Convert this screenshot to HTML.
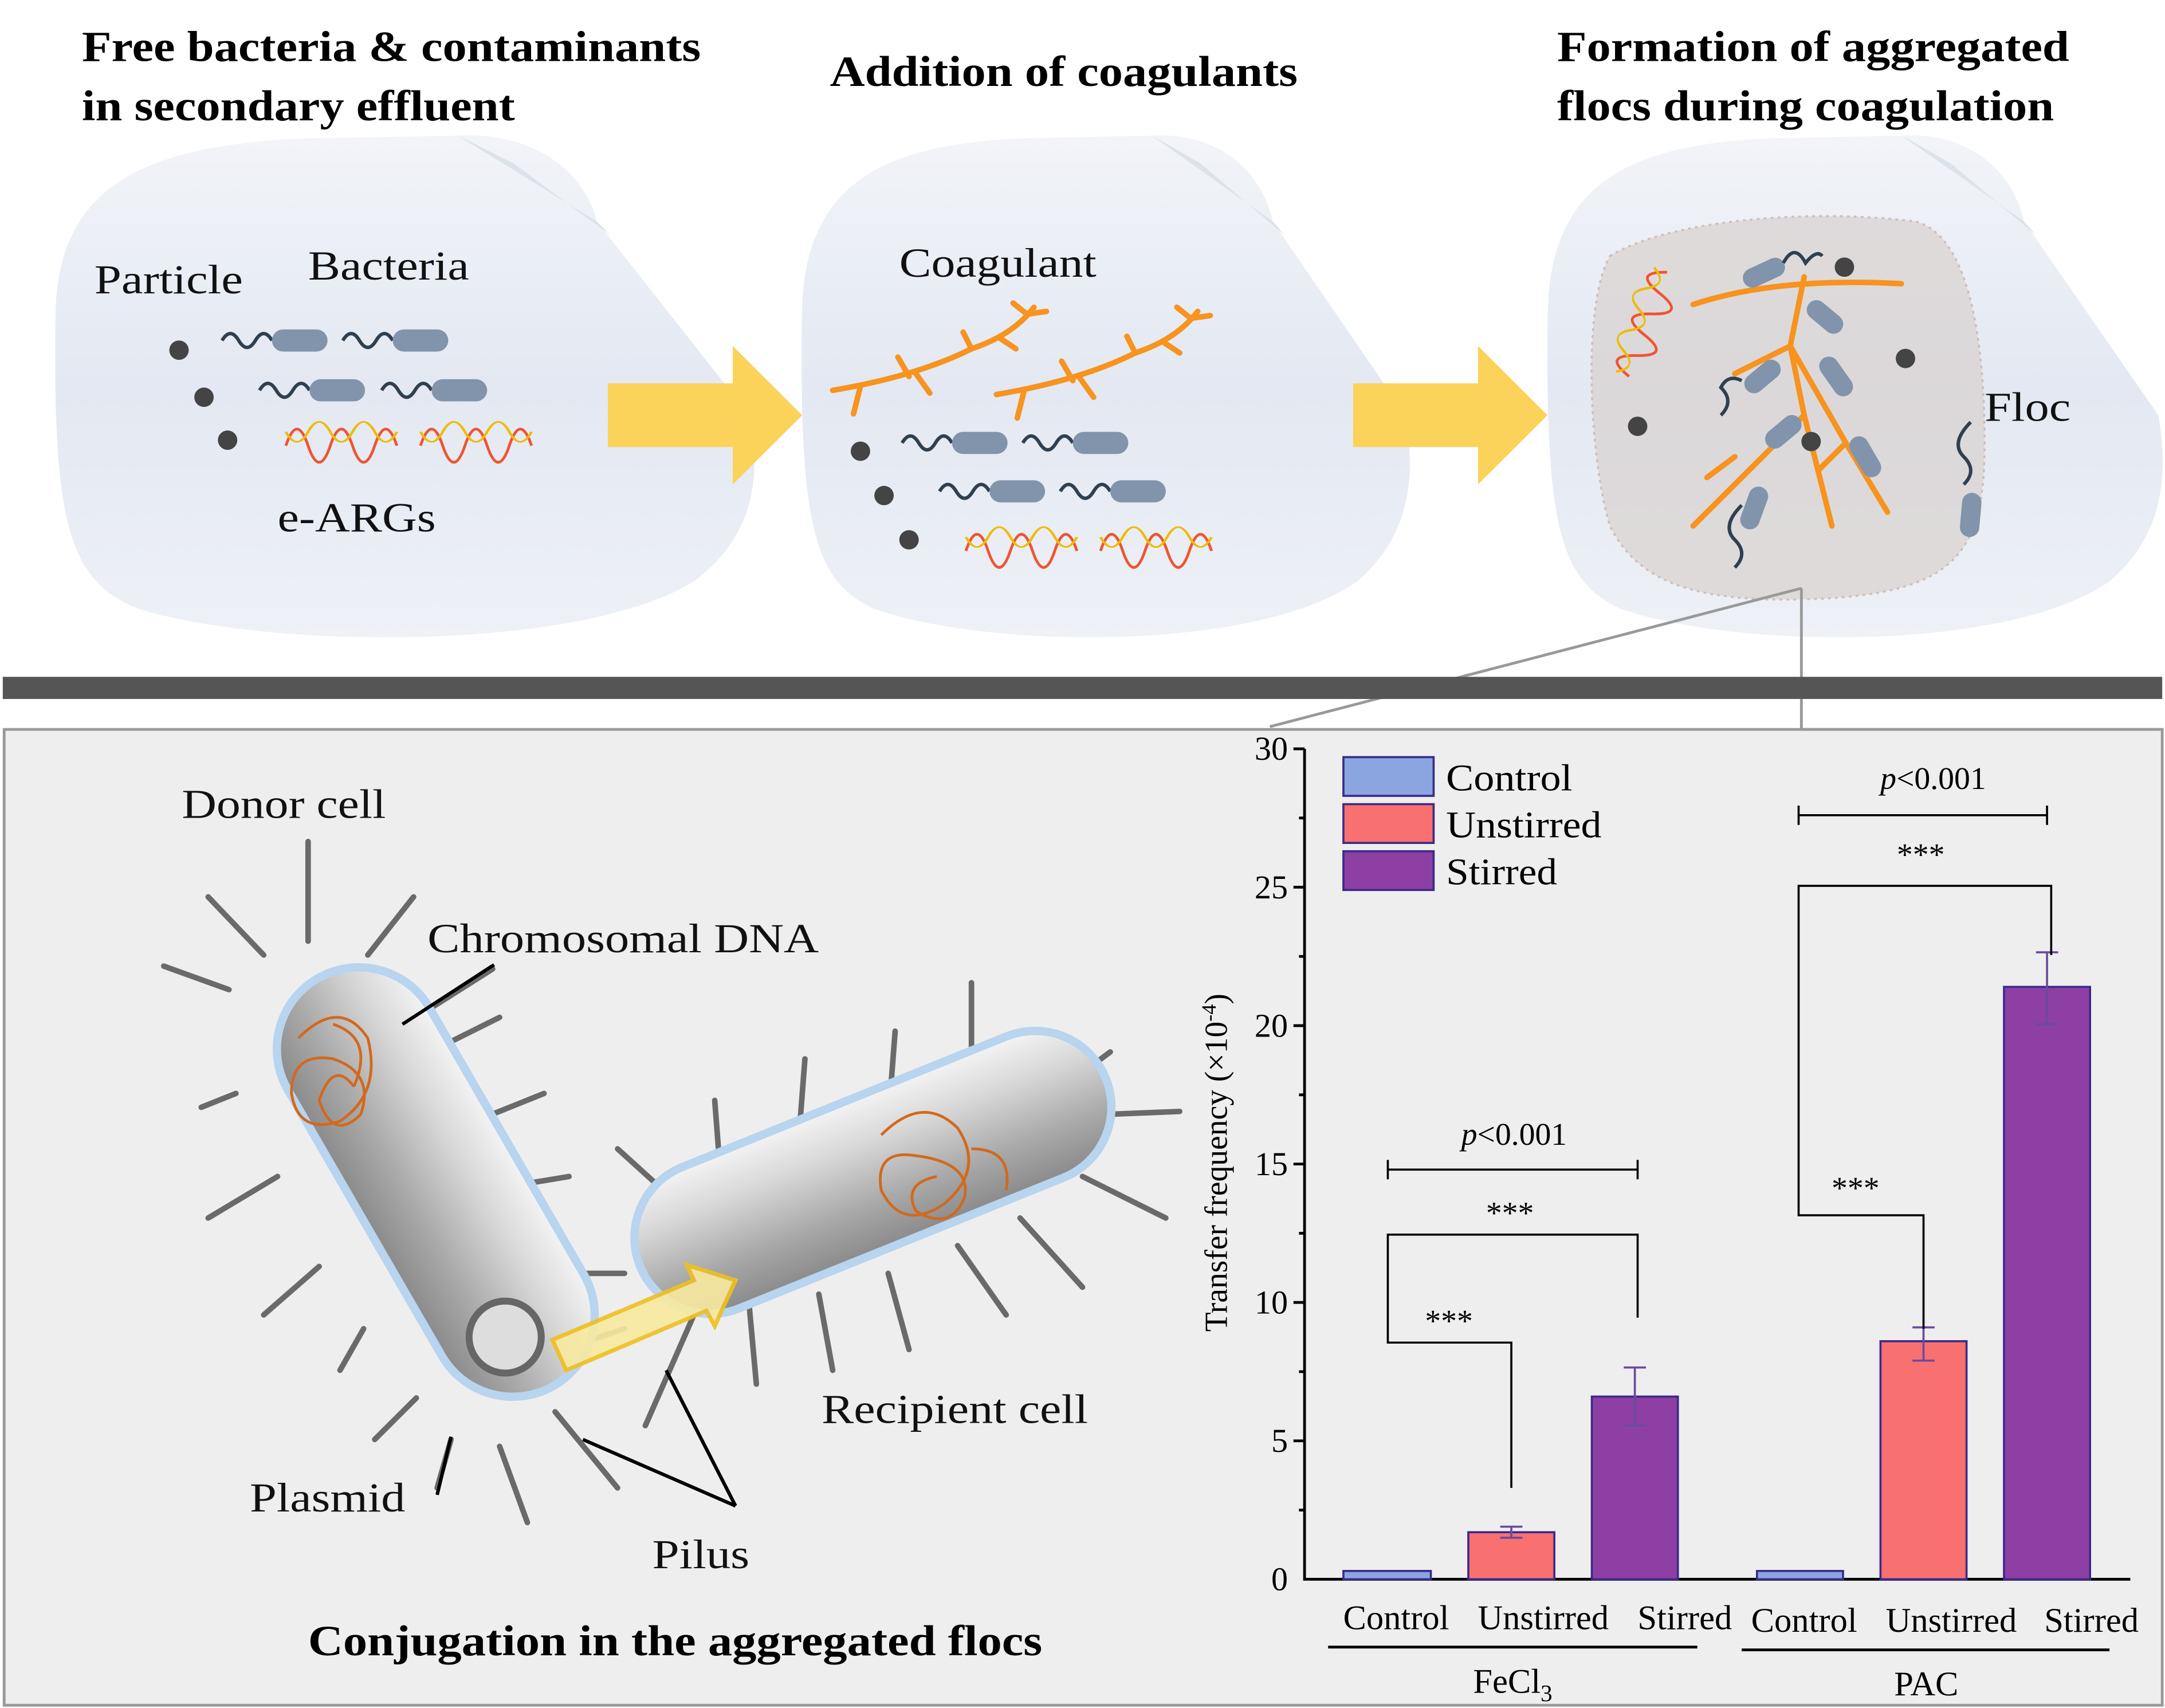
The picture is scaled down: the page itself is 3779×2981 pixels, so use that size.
<!DOCTYPE html>
<html><head><meta charset="utf-8"><style>html,body{margin:0;padding:0;background:#fff}svg{display:block}</style></head><body>
<svg width="3779" height="2981" viewBox="0 0 1560 1234" preserveAspectRatio="none" xmlns="http://www.w3.org/2000/svg" font-family="Liberation Serif, serif">
<defs>
<linearGradient id="blob" x1="0" y1="0" x2="0" y2="1"><stop offset="0" stop-color="#f2f4f8"/><stop offset="0.5" stop-color="#e3e8f2"/><stop offset="1" stop-color="#eef1f6"/></linearGradient>
<linearGradient id="pill" x1="0" y1="0" x2="0" y2="1"><stop offset="0" stop-color="#f4f4f4"/><stop offset="0.3" stop-color="#d8d8d8"/><stop offset="0.7" stop-color="#a8a8a8"/><stop offset="1" stop-color="#8a8a8a"/></linearGradient>
<g id="bact"><path d="M0 0 q6 -10 12 0 t12 0 t12 0" fill="none" stroke="#2f4050" stroke-width="2.5"/><rect x="36" y="-8" width="40" height="16" rx="8" fill="#8294ab"/></g>
<g id="dna"><path d="M0 0 q8 -24 16 0 t16 0 t16 0 t16 0 t16 0" fill="none" stroke="#e53" stroke-width="2"/><path d="M0 0 q8 24 16 0 t16 0 t16 0 t16 0 t16 0" fill="none" stroke="#eb0" stroke-width="2" transform="translate(0,-10) scale(1,0.6)"/></g>
<g id="coag" fill="none" stroke="#f7931e" stroke-width="4" stroke-linecap="round"><path d="M0 60 q60 -10 100 -30 q30 -10 45 -30"/><path d="M20 57 l-5 20 M55 50 l-8 -14 M60 48 l10 14 M100 30 l-6 -12 M120 22 l12 8 M140 5 l14 -2 M140 5 l-10 -8"/></g>
<g id="blobs"><path d="M40 230 C40 130 110 105 220 100 L330 98 C380 95 420 120 430 160 L540 300 C550 350 540 390 500 420 C420 470 200 470 100 440 C50 420 38 380 40 230Z" fill="url(#blob)"/><path d="M330 98 L370 118 L440 170 L430 160Z" fill="#dde2ea"/></g>
</defs>
<rect width="1560" height="1234" fill="#fff"/>
<!-- blobs -->
<use href="#blobs"/>
<use href="#blobs" transform="translate(543,0) scale(0.87,1)"/>
<use href="#blobs" transform="translate(1080,0) scale(0.88,1)"/>
<!-- titles -->
<g font-weight="bold" font-size="31" fill="#000" lengthAdjust="spacingAndGlyphs">
<text x="59" y="44" textLength="446" lengthAdjust="spacingAndGlyphs">Free bacteria &amp; contaminants</text><text x="59" y="87" textLength="312" lengthAdjust="spacingAndGlyphs">in secondary effluent</text>
<text x="598" y="62" textLength="337" lengthAdjust="spacingAndGlyphs">Addition of coagulants</text>
<text x="1122" y="44" textLength="369" lengthAdjust="spacingAndGlyphs">Formation of aggregated</text><text x="1122" y="87" textLength="358" lengthAdjust="spacingAndGlyphs">flocs during coagulation</text>
</g>
<!-- panel1 -->
<g font-size="30" fill="#111"><text x="68" y="212" textLength="107" lengthAdjust="spacingAndGlyphs">Particle</text><text x="222" y="202" textLength="116" lengthAdjust="spacingAndGlyphs">Bacteria</text><text x="200" y="384" textLength="114" lengthAdjust="spacingAndGlyphs">e-ARGs</text></g>
<circle cx="129" cy="253" r="7" fill="#444"/><circle cx="147" cy="287" r="7" fill="#444"/><circle cx="164" cy="318" r="7" fill="#444"/>
<use href="#bact" x="160" y="246"/><use href="#bact" x="247" y="246"/><use href="#bact" x="187" y="282"/><use href="#bact" x="275" y="282"/>
<use href="#dna" x="206" y="322"/><use href="#dna" x="303" y="322"/>
<!-- arrows -->
<path d="M438 277 H528 V250 L578 300 L528 350 V323 H438Z" fill="#fbd25a"/>
<path d="M975 277 H1065 V250 L1115 300 L1065 350 V323 H975Z" fill="#fbd25a"/>
<!-- panel2 -->
<text x="648" y="200" font-size="30" fill="#111" textLength="142" lengthAdjust="spacingAndGlyphs">Coagulant</text>
<use href="#coag" x="600" y="222"/><use href="#coag" x="718" y="225"/>
<circle cx="620" cy="326" r="7" fill="#444"/><circle cx="637" cy="358" r="7" fill="#444"/><circle cx="655" cy="390" r="7" fill="#444"/>
<use href="#bact" x="650" y="320"/><use href="#bact" x="737" y="320"/><use href="#bact" x="677" y="355"/><use href="#bact" x="764" y="355"/>
<use href="#dna" x="696" y="398"/><use href="#dna" x="793" y="398"/>
<!-- panel3 floc -->
<path d="M1160 185 C1200 160 1300 150 1380 160 C1420 170 1430 250 1430 320 C1430 400 1410 430 1300 433 C1220 435 1180 420 1160 380 C1145 330 1140 220 1160 185Z" fill="#d9d2d0" opacity="0.7" stroke="#c9a9a0" stroke-dasharray="2 3" stroke-width="1.5"/>
<g fill="none" stroke="#f7931e" stroke-width="4" stroke-linecap="round">
<path d="M1220 220 Q1280 200 1370 205 M1300 200 L1290 250 L1300 300 L1260 340 L1220 380 M1290 250 L1330 320 L1360 370 M1300 300 L1320 380 M1290 250 L1250 270 M1330 320 L1310 340 M1250 330 L1230 345"/>
</g>
<use href="#dna" x="1162" y="255" transform="rotate(-70 1180 255)"/>
<circle cx="1180" cy="308" r="7" fill="#444"/><circle cx="1329" cy="193" r="7" fill="#444"/><circle cx="1373" cy="259" r="7" fill="#444"/><circle cx="1305" cy="319" r="7" fill="#444"/>
<g fill="#8294ab"><rect x="1255" y="190" width="32" height="14" rx="7" transform="rotate(-25 1271 197)"/><rect x="1300" y="222" width="30" height="14" rx="7" transform="rotate(40 1315 229)"/><rect x="1255" y="265" width="30" height="14" rx="7" transform="rotate(-40 1270 272)"/><rect x="1307" y="265" width="32" height="14" rx="7" transform="rotate(55 1323 272)"/><rect x="1270" y="305" width="30" height="14" rx="7" transform="rotate(-40 1285 312)"/><rect x="1328" y="323" width="32" height="14" rx="7" transform="rotate(60 1344 330)"/><rect x="1248" y="360" width="32" height="14" rx="7" transform="rotate(-70 1264 367)"/><rect x="1404" y="365" width="32" height="14" rx="7" transform="rotate(-85 1420 372)"/></g>
<g fill="none" stroke="#2f4050" stroke-width="2.5"><path d="M1285 190 q8 -15 16 0 q8 -10 12 -5"/><path d="M1415 350 q10 -10 0 -20 q-10 -10 5 -25"/><path d="M1250 410 q10 -10 0 -20 q-10 -10 5 -25"/><path d="M1240 300 q10 -10 0 -20 q5 -10 15 -5"/></g>
<text x="1430" y="304" font-size="30" fill="#111" textLength="62" lengthAdjust="spacingAndGlyphs">Floc</text>
<!-- connector -->
<path d="M1298 425 L915 525 M1298 425 V527 H1558" fill="none" stroke="#999" stroke-width="2"/>
<!-- dark bar -->
<rect x="2" y="489" width="1556" height="16" fill="#555"/>
<!-- bottom panel -->
<rect x="3" y="527" width="1555" height="705" fill="#eeeeee" stroke="#999" stroke-width="2"/>
<!-- bacteria spikes -->
<g stroke="#6a6a6a" stroke-width="4" stroke-linecap="round">
<path d="M222 680 L222 608 M190 690 L150 648 M165 715 L118 698 M265 690 L298 648 M300 735 L355 700 M310 760 L360 735 M330 815 L392 790 M170 790 L145 800 M200 850 L150 880 M230 915 L190 950 M262 960 L245 990 M300 1010 L270 1040 M325 1040 L315 1075 M360 1045 L380 1100 M400 1020 L445 1075 M390 980 L450 960 M350 860 L410 850 M375 920 L450 920"/>
<path d="M500 880 L445 830 M520 860 L515 795 M575 830 L580 765 M640 810 L645 745 M700 780 L700 710 M760 790 L800 760 M800 805 L850 803 M780 850 L840 880 M735 880 L780 930 M690 900 L725 950 M640 920 L655 975 M590 935 L600 990 M540 945 L545 1000 M500 950 L465 1030"/>
</g>
<g><rect x="144" y="795" width="340" height="118" rx="59" fill="url(#pill)" stroke="#b8d4ef" stroke-width="6" transform="rotate(60 314 854)"/>
<rect x="448" y="792" width="362" height="110" rx="55" fill="url(#pill)" stroke="#b8d4ef" stroke-width="6" transform="rotate(-22 629 847)"/></g>
<g fill="none" stroke="#d2691e" stroke-width="2"><path d="M215 750 q30 -30 50 0 q10 40 -20 60 q-30 10 -35 -20 q0 -30 30 -25 q30 10 20 40 q-20 20 -30 -10 q10 -30 25 -10 M240 740 q30 10 15 45"/><path d="M635 820 q30 -30 55 -5 q20 30 -10 55 q-30 20 -45 -10 q-5 -30 25 -25 q40 5 35 30 q-10 25 -35 10 q-10 -20 15 -25 M700 830 q30 0 25 30"/></g>
<circle cx="364" cy="966" r="26" fill="#ddd" stroke="#666" stroke-width="5"/>
<path d="M398 968 L500 925 L495 914 L530 925 L515 958 L509 947 L408 990Z" fill="#f8eaa0" stroke="#f0c020" stroke-width="3" opacity="0.9"/>
<g font-size="30" fill="#111"><text x="131" y="591" textLength="147" lengthAdjust="spacingAndGlyphs">Donor cell</text><text x="308" y="688" textLength="282" lengthAdjust="spacingAndGlyphs">Chromosomal DNA</text><text x="592" y="1028" textLength="192" lengthAdjust="spacingAndGlyphs">Recipient cell</text><text x="180" y="1092" textLength="112" lengthAdjust="spacingAndGlyphs">Plasmid</text><text x="470" y="1133" textLength="70" lengthAdjust="spacingAndGlyphs">Pilus</text></g>
<path d="M356 697 L290 740 M315 1080 L325 1038 M530 1088 L480 990 M530 1088 L420 1040" stroke="#000" stroke-width="2.5" fill="none"/>
<text x="222" y="1196" font-size="31" font-weight="bold" textLength="529" lengthAdjust="spacingAndGlyphs">Conjugation in the aggregated flocs</text>
<!-- chart -->
<g stroke="#000" stroke-width="2" fill="none"><path d="M940 541 V1141 H1535"/>
<path d="M940 541 h-8 M940 641 h-8 M940 741 h-8 M940 841 h-8 M940 941 h-8 M940 1041 h-8 M940 591 h-4 M940 691 h-4 M940 791 h-4 M940 891 h-4 M940 991 h-4 M940 1091 h-4"/></g>
<g font-size="24" text-anchor="end"><text x="928" y="549">30</text><text x="928" y="649">25</text><text x="928" y="749">20</text><text x="928" y="849">15</text><text x="928" y="949">10</text><text x="928" y="1049">5</text><text x="928" y="1149">0</text></g>
<text transform="translate(884,840) rotate(-90)" text-anchor="middle" font-size="23">Transfer frequency (×10<tspan dy="-8" font-size="15">-4</tspan><tspan dy="8">)</tspan></text>
<g stroke="#3a2a8a" stroke-width="1.5">
<rect x="968" y="1135" width="63" height="6" fill="#8aa5e0"/><rect x="1058" y="1107" width="62" height="34" fill="#f87070"/><rect x="1147" y="1009" width="62" height="132" fill="#8e3fa3"/>
<rect x="1266" y="1135" width="62" height="6" fill="#8aa5e0"/><rect x="1355" y="969" width="62" height="172" fill="#f87070"/><rect x="1444" y="713" width="62" height="428" fill="#8e3fa3"/></g>
<g stroke="#6a4aa0" stroke-width="1.5" fill="none"><path d="M1089 1103 V1111 M1081 1103 h16 M1081 1111 h16 M1178 988 V1030 M1170 988 h16 M1170 1030 h16 M1386 959 V983 M1378 959 h16 M1378 983 h16 M1475 688 V740 M1467 688 h16 M1467 740 h16"/></g>
<g stroke="#000" stroke-width="1.5" fill="none">
<path d="M1000 955 V970 H1089 V1075 M1000 955 V892 H1180 V952 M1000 852 V838 M1000 845 H1180 M1180 838 V852 M1296 845 V878 H1386 V960 M1296 845 V640 H1478 V690 M1296 582 V596 M1296 589 H1475 M1475 582 V596"/></g>
<g font-size="23" text-anchor="middle"><text x="1044" y="962">***</text><text x="1088" y="884">***</text><text x="1337" y="866">***</text><text x="1384" y="625">***</text>
<text x="1091" y="827"><tspan font-style="italic">p</tspan>&lt;0.001</text><text x="1393" y="570"><tspan font-style="italic">p</tspan>&lt;0.001</text></g>
<g stroke="#3a2a8a" stroke-width="1.5"><rect x="968" y="547" width="65" height="28" fill="#8aa5e0"/><rect x="968" y="581" width="65" height="28" fill="#f87070"/><rect x="968" y="615" width="65" height="28" fill="#8e3fa3"/></g>
<g font-size="27"><text x="1042" y="571" textLength="91" lengthAdjust="spacingAndGlyphs">Control</text><text x="1042" y="605" textLength="112" lengthAdjust="spacingAndGlyphs">Unstirred</text><text x="1042" y="639" textLength="80" lengthAdjust="spacingAndGlyphs">Stirred</text></g>
<g font-size="25" text-anchor="middle"><text x="1006" y="1177">Control</text><text x="1112" y="1177">Unstirred</text><text x="1214" y="1177">Stirred</text><text x="1300" y="1179">Control</text><text x="1406" y="1179">Unstirred</text><text x="1507" y="1179">Stirred</text>
<text x="1090" y="1223">FeCl<tspan dy="6" font-size="17">3</tspan></text><text x="1388" y="1225">PAC</text></g>
<path d="M957 1190 H1223 M1255 1192 H1520" stroke="#000" stroke-width="2"/>
</svg>
</body></html>
